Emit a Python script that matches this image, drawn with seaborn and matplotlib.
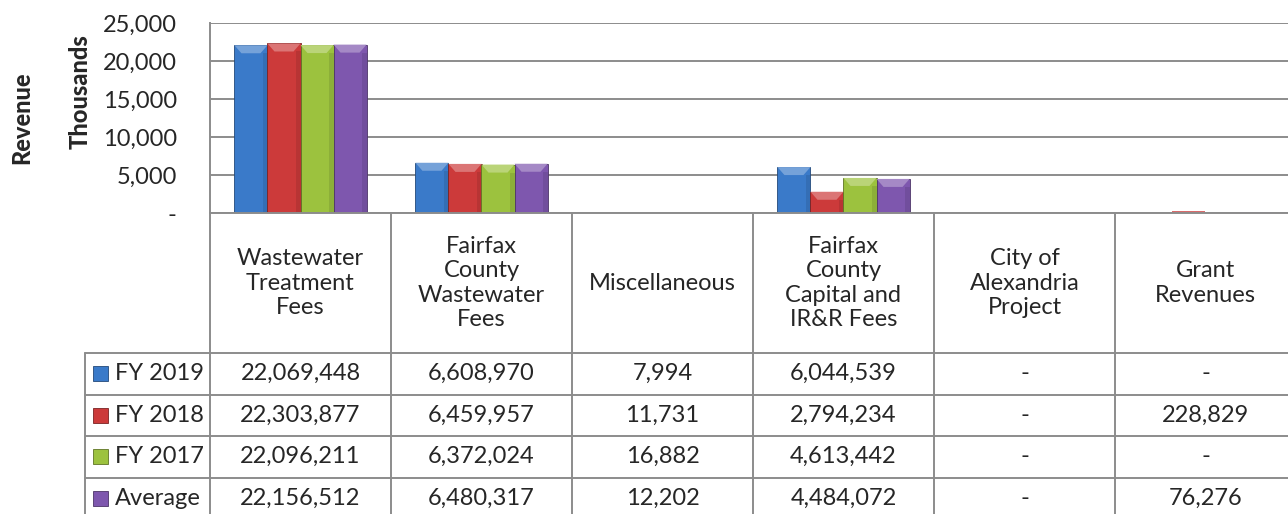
import matplotlib
matplotlib.use("Agg")
import matplotlib.pyplot as plt
import pandas as pd
import seaborn as sns
from matplotlib.colors import to_rgb
from matplotlib.patches import Polygon, Rectangle
from matplotlib.ticker import FuncFormatter

# data (dollars), bars are drawn in thousands
categories = ["Wastewater\nTreatment\nFees", "Fairfax\nCounty\nWastewater\nFees", "Miscellaneous",
              "Fairfax\nCounty\nCapital and\nIR&R Fees", "City of\nAlexandria\nProject", "Grant\nRevenues"]
series = ["FY 2019", "FY 2018", "FY 2017", "Average"]
fy2019 = [22069448, 6608970, 7994, 6044539, 0, 0]
fy2018 = [22303877, 6459957, 11731, 2794234, 0, 228829]
fy2017 = [22096211, 6372024, 16882, 4613442, 0, 0]
average = [22156512, 6480317, 12202, 4484072, 0, 76276]
yticks = [0, 5000, 10000, 15000, 20000, 25000]
colors = ["#3A7AC9", "#CC3A3A", "#9CC23E", "#7E57AE"]

values = [fy2019, fy2018, fy2017, average]
rows = []
for s, vals in zip(series, values):
    for c, v in zip(categories, vals):
        rows.append({"category": c, "series": s, "value": v / 1000})
df = pd.DataFrame(rows)


def shade(c, f):
    r, g, b = to_rgb(c)
    if f > 0:
        return (r + (1 - r) * f, g + (1 - g) * f, b + (1 - b) * f)
    return (r * (1 + f), g * (1 + f), b * (1 + f))


sns.set_style("white")
plt.rcParams["font.family"] = ["Lato", "DejaVu Sans"]
plt.rcParams["font.size"] = 17

W, H = 1288, 514
fig = plt.figure(figsize=(W / 100, H / 100), dpi=100)
grid_c = "#8C8C8C"

# bar chart area
ax = fig.add_axes([210 / W, 1 - 213 / H, 1086 / W, 190 / H])
sns.barplot(data=df, x="category", y="value", hue="series", order=categories,
            hue_order=series, palette=colors, width=0.73, ax=ax, legend=False,
            saturation=1, linewidth=0)
ax.set_xlim(-0.5, 5.5)
ax.set_ylim(0, 25000)

# bevel look: darker edge + lighter top facet on every bar
bev_x = 7 / 181
bev_y = 25000 * 8 / 190
for i, cont in enumerate(ax.containers):
    col = colors[i]
    for p in cont.patches:
        x0, w, h = p.get_x(), p.get_width(), p.get_height()
        if h > bev_y * 1.5:
            p.set_edgecolor(shade(col, -0.4))
            p.set_linewidth(0.6)
            ax.add_patch(Polygon([(x0, h), (x0 + w, h), (x0 + w - bev_x, h - bev_y),
                                  (x0 + bev_x, h - bev_y)], closed=True,
                                 facecolor=shade(col, 0.3), lw=0, zorder=p.get_zorder() + 0.1))
            ax.add_patch(Rectangle((x0 + w - bev_x * 0.7, 0), bev_x * 0.7, h - bev_y,
                                   facecolor=shade(col, -0.1), lw=0, zorder=p.get_zorder() + 0.1))
        else:
            p.set_facecolor(shade(col, 0.25))

ax.set_yticks(yticks)
ax.yaxis.set_major_formatter(FuncFormatter(lambda v, p: "-" if v == 0 else f"{v:,.0f}"))
ax.tick_params(axis="y", length=0, pad=24, labelsize=17)
ax.set_xticks([])
ax.set_xlabel("")
ax.set_ylabel("")
for y in yticks:
    ax.axhline(y, color=grid_c, lw=1.4, zorder=0)
for side in ["top", "right", "bottom"]:
    ax.spines[side].set_visible(False)
ax.spines["left"].set_color(grid_c)
ax.spines["left"].set_linewidth(1.4)

fig.text(80 / W, 1 - 92 / H, "Thousands", rotation=90, fontweight="black",
         ha="center", va="center", fontsize=17)
fig.text(22 / W, 1 - 118 / H, "Revenue", rotation=90, fontweight="black",
         ha="center", va="center", fontsize=17)

# data table below the bars
tax = fig.add_axes([210 / W, 0, 1086 / W, 301 / H])
tax.set_xlim(-0.5, 5.5)
tax.set_ylim(301, 0)
tax.axis("off")

head_h = 140
row_h = 41.5
left_x = -0.5 - 125 / 181
kw = dict(color=grid_c, lw=1.4, clip_on=False)
tax.plot([-0.5, 5.5], [0, 0], **kw)
for i in range(len(series)):
    y = head_h + i * row_h
    tax.plot([left_x, 5.5], [y, y], **kw)
for k in range(len(categories) + 1):
    tax.plot([k - 0.5, k - 0.5], [0, 310], **kw)
tax.plot([left_x, left_x], [head_h, 310], **kw)

for k, c in enumerate(categories):
    tax.text(k, head_h / 2, c, ha="center", va="center", linespacing=1.2,
             fontsize=17, clip_on=False)

fmt = lambda v: "-" if v == 0 else f"{v:,.0f}"
for i, (s, vals) in enumerate(zip(series, values)):
    yc = head_h + (i + 0.5) * row_h
    tax.add_patch(Rectangle((left_x + 8 / 181, yc - 7.5), 15 / 181, 15,
                            facecolor=colors[i], edgecolor=shade(colors[i], -0.4),
                            lw=0.6, clip_on=False))
    tax.text(left_x + 30 / 181, yc, s, ha="left", va="center", fontsize=17, clip_on=False)
    for k, v in enumerate(vals):
        tax.text(k, yc, fmt(v), ha="center", va="center", fontsize=17, clip_on=False)

fig.savefig("out.png", dpi=100)
